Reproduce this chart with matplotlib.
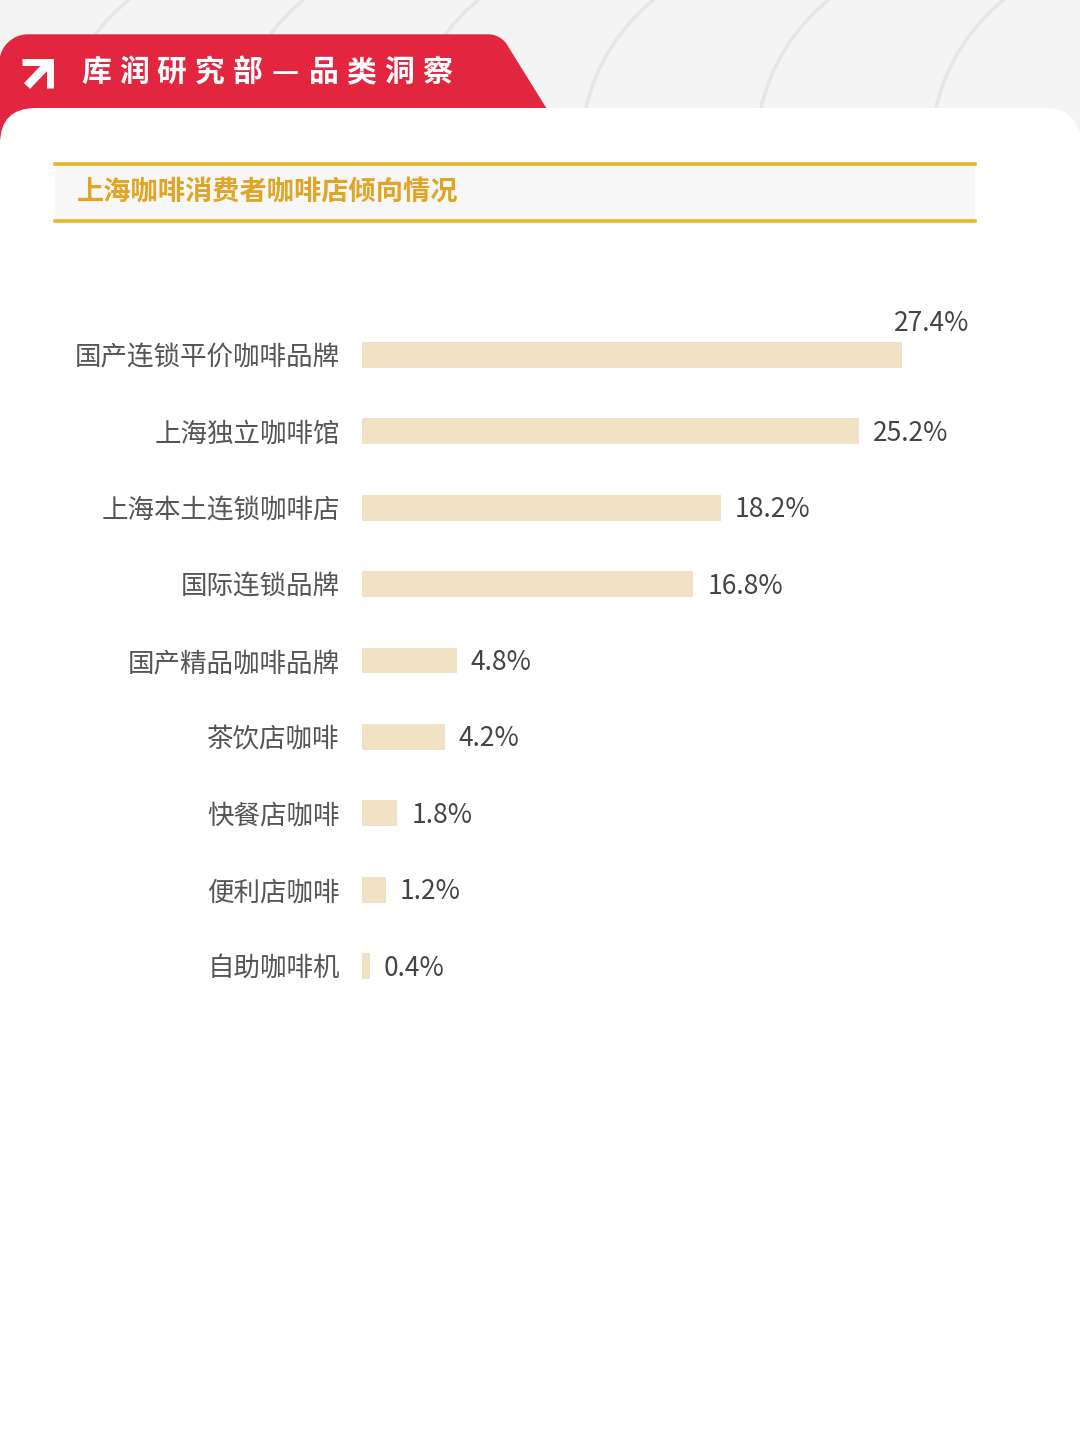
import numpy as np
import matplotlib
matplotlib.use("Agg")
from matplotlib import pyplot as plt
from matplotlib.patches import Rectangle, FancyBboxPatch, Polygon, PathPatch
from matplotlib.path import Path

plt.rcParams['font.family'] = ['Noto Sans CJK SC', 'DejaVu Sans']

header = "库润研究部—品类洞察"
title = "上海咖啡消费者咖啡店倾向情况"
categories = ["国产连锁平价咖啡品牌", "上海独立咖啡馆", "上海本土连锁咖啡店", "国际连锁品牌",
              "国产精品咖啡品牌", "茶饮店咖啡", "快餐店咖啡", "便利店咖啡", "自助咖啡机"]
shares = [27.4, 25.2, 18.2, 16.8, 4.8, 4.2, 1.8, 1.2, 0.4]

RED = '#e3263f'
GOLD = '#e8b52c'
BAR = '#f1e2c5'

fig = plt.figure(figsize=(10.8, 14.4), dpi=100, facecolor='white')

# background layer in pixel coordinates
bg = fig.add_axes([0, 0, 1, 1])
bg.set_xlim(0, 1080)
bg.set_ylim(1440, 0)
bg.axis('off')

bg.add_patch(Rectangle((0, 0), 1080, 130, color='#f4f4f4', zorder=0))
# faint decorative arcs in the header
for x0 in [60, 235, 410, 585, 760, 935]:
    verts = [(x0, 112), (x0 + 15, 40), (x0 + 78, -8)]
    p = Path(verts, [Path.MOVETO, Path.CURVE3, Path.CURVE3])
    bg.add_patch(PathPatch(p, fc='none', ec='#e6e6e6', lw=2.5, zorder=1))

# red tab
t = np.linspace(np.pi, 1.5 * np.pi, 20)
corner = np.column_stack([28 + 28 * np.cos(t), 63 + 28 * np.sin(t)])
t2 = np.linspace(1.5 * np.pi, 1.85 * np.pi, 10)
corner2 = np.column_stack([488 + 22 * np.cos(t2), 57 + 22 * np.sin(t2)])
tab = np.vstack([[(0, 140)], corner, corner2, [(548, 112), (548, 140)]])
bg.add_patch(Polygon(tab, closed=True, color=RED, zorder=2))

# arrow icon
bg.plot([27, 49], [86, 63], color='white', lw=6, solid_capstyle='butt', zorder=3)
bg.plot([22, 50, 50], [62, 62, 88], color='white', lw=5, solid_capstyle='butt',
        solid_joinstyle='miter', zorder=3)

for i, ch in enumerate(header):
    bg.text(96 + i * 37.9, 72, ch, color='white', fontsize=21.5, fontweight='bold',
            ha='center', va='center', zorder=3)

# white card
bg.add_patch(FancyBboxPatch((0, 108), 1080, 1400, boxstyle='round,pad=0,rounding_size=36',
                            fc='white', ec='none', zorder=4))

# title box
bg.add_patch(Rectangle((55, 164), 920, 57, fc='#f7f7f7', ec='none', zorder=5))
bg.plot([55, 975], [164, 164], color=GOLD, lw=2.6, zorder=6)
bg.plot([55, 975], [221, 221], color=GOLD, lw=2.6, zorder=6)
bg.text(77, 193, title, color='#e0a524', fontsize=19.6, fontweight='bold',
        ha='left', va='center', zorder=6)

# bar chart
px_per_unit = 19.71
top, bottom = 316.8, 1004.2
ax = fig.add_axes([362 / 1080, 1 - bottom / 1440, 700 / 1080, (bottom - top) / 1440])
ax.patch.set_alpha(0)
ax.set_zorder(10)
y = np.arange(len(categories))
ax.barh(y, shares, height=0.34, color=BAR)
ax.set_xlim(0, 700 / px_per_unit)
ax.set_ylim(len(categories) - 0.5, -0.5)
ax.set_yticks(y)
ax.set_yticklabels(categories, fontsize=19.1, color='#555555')
ax.tick_params(axis='y', length=0, pad=16)
ax.set_xticks([])
for s in ax.spines.values():
    s.set_visible(False)
for lab in ax.get_yticklabels():
    lab.set_y(lab.get_position()[1])

for i, v in enumerate(shares):
    if i == 0:
        ax.annotate(f"{v}%", xy=(v, i), xytext=(67, 31), textcoords='offset pixels',
                    ha='right', va='center', fontsize=19, color='#444444')
    else:
        ax.annotate(f"{v}%", xy=(v, i), xytext=(14, -2), textcoords='offset pixels',
                    ha='left', va='center', fontsize=19, color='#444444')

fig.savefig("out.png", dpi=100)
